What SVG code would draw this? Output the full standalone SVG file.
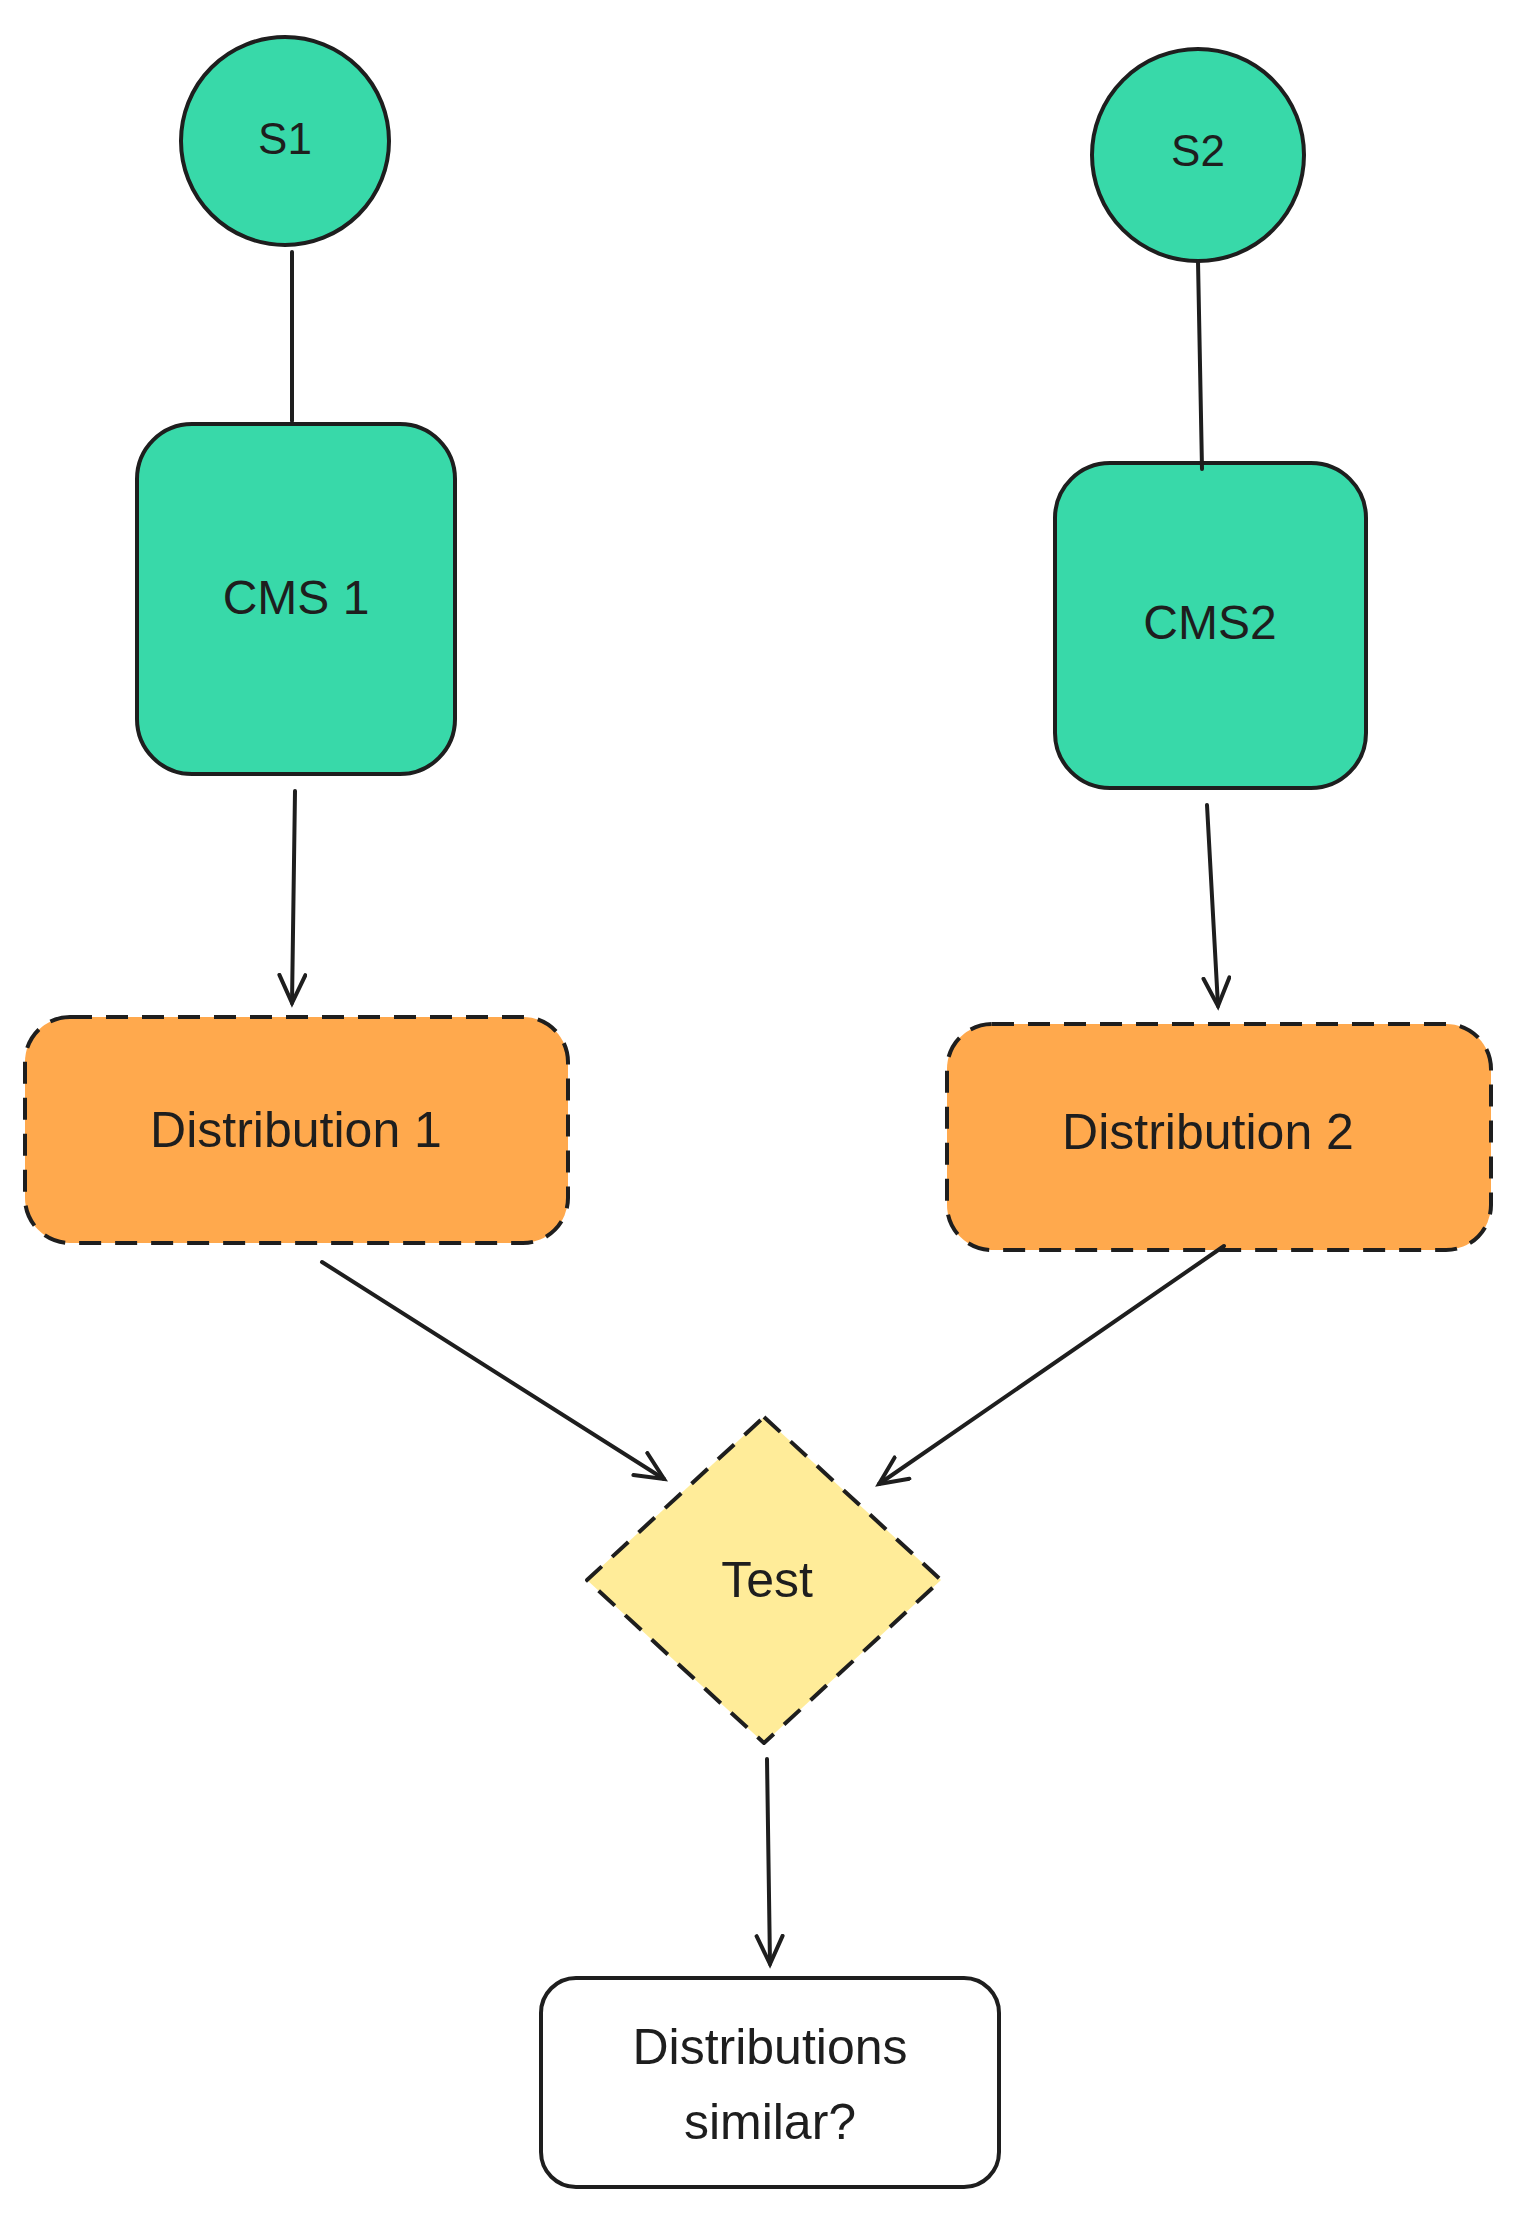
<svg xmlns="http://www.w3.org/2000/svg" width="1519" height="2221" viewBox="0 0 1519 2221">
<style>
.n{stroke:#1e1e1e;stroke-width:4;}
.t{fill:#1e1e1e;font-family:"Liberation Sans",Arial,sans-serif;text-anchor:middle;dominant-baseline:central;}
.c{fill:none;stroke:#1e1e1e;stroke-width:4;stroke-linecap:round;}
.d{stroke-dasharray:22 14;}
</style>
<defs>
<marker id="a" markerWidth="40" markerHeight="40" refX="30" refY="15" orient="auto" markerUnits="userSpaceOnUse">
<path d="M2,2 L30,15 L2,28" fill="none" stroke="#1e1e1e" stroke-width="4" stroke-linecap="round"/>
</marker>
</defs>
<rect width="1519" height="2221" fill="#fff"/>
<g id="s1"><circle cx="285" cy="141" r="104" class="n" fill="#38d9a9"/><text x="285" y="138" class="t" font-size="44">S1</text></g>
<g id="s2"><circle cx="1198" cy="155" r="106" class="n" fill="#38d9a9"/><text x="1198" y="150" class="t" font-size="44">S2</text></g>
<g id="cms1"><rect x="137" y="424" width="318" height="350" rx="55" class="n" fill="#38d9a9"/><text x="296" y="597" class="t" font-size="48">CMS 1</text></g>
<g id="cms2"><rect x="1055" y="463" width="311" height="325" rx="55" class="n" fill="#38d9a9"/><text x="1210" y="622" class="t" font-size="48">CMS2</text></g>
<g id="dist1"><rect x="25" y="1017" width="543" height="226" rx="45" class="n d" fill="#ffa94d"/><text x="296" y="1130" class="t" font-size="50">Distribution 1</text></g>
<g id="dist2"><rect x="947" y="1024" width="544" height="226" rx="45" class="n d" fill="#ffa94d"/><text x="1208" y="1132" class="t" font-size="50">Distribution 2</text></g>
<g id="test"><path d="M764,1417 L941,1580 L764,1743 L587,1580 Z" class="n d" fill="#ffec99" stroke-linejoin="round"/><text x="767" y="1580" class="t" font-size="50">Test</text></g>
<g id="result"><rect x="541" y="1978" width="458" height="209" rx="35" class="n" fill="#fff"/><text x="770" y="2047" class="t" font-size="50">Distributions</text><text x="770" y="2122" class="t" font-size="50">similar?</text></g>
<g id="connectors">
<path class="c" d="M292,252 L292,421"/>
<path class="c" d="M1198,261 L1202,469"/>
<path class="c" d="M295,791 L292,1003" marker-end="url(#a)"/>
<path class="c" d="M1207,805 L1218,1006" marker-end="url(#a)"/>
<path class="c" d="M322,1262 L664,1479" marker-end="url(#a)"/>
<path class="c" d="M1224,1246 L879,1484" marker-end="url(#a)"/>
<path class="c" d="M767,1759 L770,1964" marker-end="url(#a)"/>
</g>
</svg>
